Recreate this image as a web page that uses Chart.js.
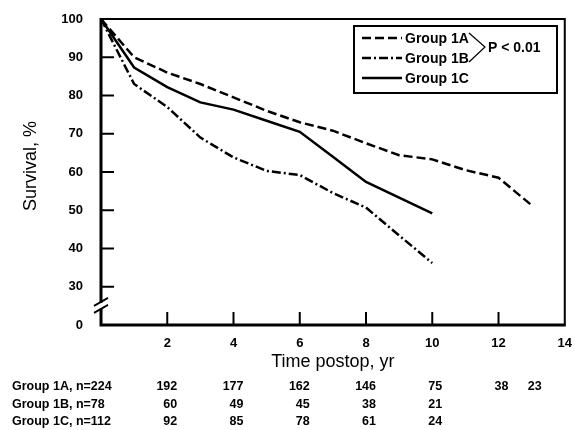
<!DOCTYPE html>
<html lang="en">
  <head>
    <meta charset="UTF-8" />
    <title>Survival by group</title>
    <script src="https://cdn.jsdelivr.net/npm/chart.js"></script>
    <style>
      body { margin: 0; background: #fff; }
    </style>
  </head>
  <body>
    <canvas id="myChart" width="575" height="430"></canvas>
    <script>
      // survival curves
      const years = [0, 1, 2, 3, 4, 5, 6, 7, 8, 9, 10, 11, 12, 13];
      const group1A = [100, 90, 86, 83, 79.5, 76, 73, 70.8, 67.5, 64.4, 63.3, 60.5, 58.5, 51.3];
      const group1B = [100, 83, 77, 69, 63.8, 60.3, 59.2, 54.5, 50.7, 43.4, 36.2];
      const group1C = [100, 87.3, 82.2, 78.2, 76.3, 73.4, 70.5, 64, 57.4, 53.3, 49.2];

      const seriesNames = ["Group 1A", "Group 1B", "Group 1C"];
      const yTicks = [30, 40, 50, 60, 70, 80, 90, 100];
      const xTicks = [2, 4, 6, 8, 10, 12, 14];

      // patients at risk table
      const riskLabels = ["Group 1A, n=224", "Group 1B, n=78", "Group 1C, n=112"];
      const riskTimes = [2, 4, 6, 8, 10, 12, 13];
      const risk1A = [192, 177, 162, 146, 75, 38, 23];
      const risk1B = [60, 49, 45, 38, 21];
      const risk1C = [92, 85, 78, 61, 24];

      const FONT = "'Liberation Sans', Arial, Helvetica, sans-serif";
      const dashes = [[9, 4], [9, 3, 2, 3], []];

      const toPoints = (vals) => vals.map((v, i) => ({ x: years[i], y: v }));

      // frame, inward ticks, axis break, titles, legend, risk table
      const decor = {
        id: "decor",
        beforeDatasetsDraw(chart) {
          const { ctx, chartArea: a, scales } = chart;
          const xs = scales.x, ys = scales.y;
          ctx.save();
          ctx.strokeStyle = "#000";
          ctx.lineCap = "butt";
          // top + right thinner
          ctx.lineWidth = 2;
          ctx.beginPath();
          ctx.moveTo(a.left, a.top);
          ctx.lineTo(a.right, a.top);
          ctx.lineTo(a.right, a.bottom);
          ctx.stroke();
          // left + bottom axes
          ctx.lineWidth = 3;
          ctx.beginPath();
          ctx.moveTo(a.left, a.top - 1);
          ctx.lineTo(a.left, a.bottom);
          ctx.lineTo(a.right + 1, a.bottom);
          ctx.stroke();

          ctx.lineWidth = 2;
          yTicks.slice(0, -1).forEach((v) => {
            const y = ys.getPixelForValue(v);
            ctx.beginPath();
            ctx.moveTo(a.left, y);
            ctx.lineTo(a.left + 13, y);
            ctx.stroke();
          });
          xTicks.slice(0, -1).forEach((v) => {
            const x = xs.getPixelForValue(v);
            ctx.beginPath();
            ctx.moveTo(x, a.bottom);
            ctx.lineTo(x, a.bottom - 13);
            ctx.stroke();
          });

          // axis break between 30 and 0
          const yb = (ys.getPixelForValue(30) + ys.getPixelForValue(20)) / 2;
          ctx.fillStyle = "#fff";
          ctx.fillRect(a.left - 3, yb - 3, 6, 6);
          ctx.lineWidth = 1.8;
          ctx.beginPath();
          ctx.moveTo(a.left - 7, yb);
          ctx.lineTo(a.left + 7, yb - 8);
          ctx.moveTo(a.left - 7, yb + 7);
          ctx.lineTo(a.left + 7, yb - 1);
          ctx.stroke();
          ctx.restore();
        },
        afterDraw(chart) {
          const { ctx, chartArea: a, scales } = chart;
          const xs = scales.x;
          ctx.save();
          ctx.fillStyle = "#000";
          ctx.strokeStyle = "#000";

          // axis titles
          ctx.font = "18px " + FONT;
          ctx.textAlign = "center";
          ctx.textBaseline = "middle";
          ctx.fillText("Time postop, yr", (a.left + a.right) / 2, 362);
          ctx.save();
          ctx.translate(31, 166);
          ctx.rotate(-Math.PI / 2);
          ctx.fillText("Survival, %", 0, 0);
          ctx.restore();

          // legend box
          ctx.lineWidth = 2;
          ctx.strokeRect(354, 26, 203, 67);
          ctx.font = "bold 14px " + FONT;
          ctx.textAlign = "left";
          const rows = [38, 58, 78];
          seriesNames.forEach((name, i) => {
            ctx.lineWidth = 2.6;
            ctx.setLineDash(dashes[i]);
            ctx.beginPath();
            ctx.moveTo(362, rows[i]);
            ctx.lineTo(402, rows[i]);
            ctx.stroke();
            ctx.setLineDash([]);
            ctx.fillText(name, 405, rows[i] + 1);
          });
          ctx.lineWidth = 1.2;
          ctx.beginPath();
          ctx.moveTo(469, 33);
          ctx.lineTo(485, 47);
          ctx.lineTo(469, 62);
          ctx.stroke();
          ctx.fillText("P < 0.01", 488, 48);

          // at-risk table
          ctx.font = "bold 12.5px " + FONT;
          const tableRows = [risk1A, risk1B, risk1C];
          const rowY = [387, 405, 422];
          tableRows.forEach((vals, r) => {
            ctx.textAlign = "left";
            ctx.fillText(riskLabels[r], 12, rowY[r]);
            ctx.textAlign = "right";
            vals.forEach((n, i) => {
              ctx.fillText(String(n), xs.getPixelForValue(riskTimes[i]) + 10, rowY[r]);
            });
          });
          ctx.restore();
        },
      };

      const ctx = document.getElementById("myChart");
      const myChart = new Chart(ctx, {
        type: "line",
        data: {
          datasets: [group1A, group1B, group1C].map((vals, i) => ({
            label: seriesNames[i],
            data: toPoints(vals),
            borderColor: "#000",
            borderWidth: 2.5,
            borderDash: dashes[i],
            borderCapStyle: "butt",
            pointRadius: 0,
            tension: 0,
            fill: false,
          })),
        },
        options: {
          responsive: false,
          animation: false,
          layout: { padding: { top: 19, right: 9, left: 0, bottom: 0 } },
          plugins: { legend: { display: false }, tooltip: { enabled: false } },
          scales: {
            x: {
              type: "linear",
              min: 0,
              max: 14,
              grid: { display: false },
              border: { display: false },
              afterFit: (scale) => { scale.height = 105; },
              afterBuildTicks: (scale) => { scale.ticks = xTicks.map((v) => ({ value: v })); },
              ticks: {
                autoSkip: false,
                maxRotation: 0,
                padding: 3,
                color: "#000",
                font: { family: FONT, size: 13, weight: "bold" },
              },
            },
            y: {
              min: 20,
              max: 100,
              grid: { display: false },
              border: { display: false },
              afterFit: (scale) => { scale.width = 101; },
              afterBuildTicks: (scale) => {
                scale.ticks = [20].concat(yTicks).map((v) => ({ value: v }));
              },
              ticks: {
                padding: 10,
                color: "#000",
                font: { family: FONT, size: 13, weight: "bold" },
                callback: (value) => (value === 20 ? "0" : value),
              },
            },
          },
        },
        plugins: [decor],
      });
    </script>
  </body>
</html>
